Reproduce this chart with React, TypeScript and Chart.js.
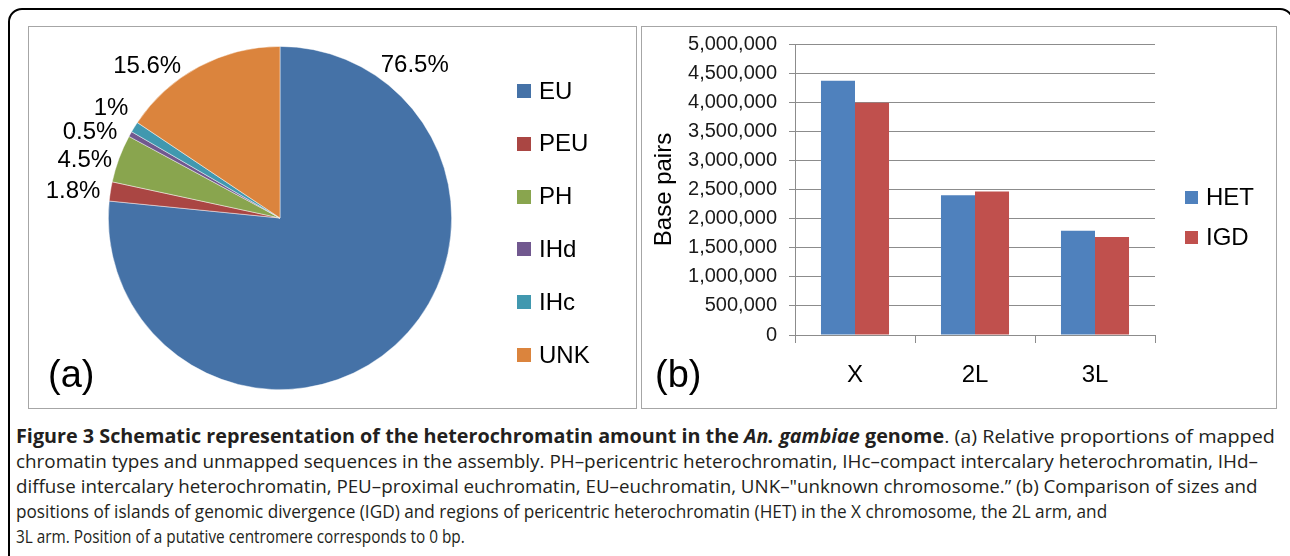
import React, { useEffect, useRef } from 'react';
import { Chart, registerables } from 'chart.js';

Chart.register(...registerables);

const FONT = '"Liberation Sans", Arial, Helvetica, sans-serif';
const CAPTION_FONT = '"Open Sans", "Noto Sans", sans-serif';

// ---- Panel (a) data ----
const pieLabels = ['EU', 'PEU', 'PH', 'IHd', 'IHc', 'UNK'];
const pieValues = [76.5, 1.8, 4.5, 0.5, 1, 15.6];
const pieColors = ['#4572A7', '#AA4643', '#89A54E', '#71588F', '#4198AF', '#DB843D'];
// label placement style (angle nudge in degrees from slice middle, gap beyond the rim)
const pieLabelAngleNudge = [-96.4, -1.7, -3.8, -4.9, 1.1, -13.1];
const pieLabelGap = [32, 37, 32, 37, 30, 30];

// ---- Panel (b) data ----
const barCategories = ['X', '2L', '3L'];
const hetValues = [4370000, 2400000, 1790000];
const igdValues = [3990000, 2465000, 1685000];
const barSeriesNames = ['HET', 'IGD'];
const barColors = ['#4F81BD', '#C0504D'];
const yMax = 5000000;
const yStep = 500000;

// ---- Caption ----
const captionLines = [
  'chromatin types and unmapped sequences in the assembly. PH–pericentric heterochromatin, IHc–compact intercalary heterochromatin, IHd–',
  'diffuse intercalary heterochromatin, PEU–proximal euchromatin, EU–euchromatin, UNK–"unknown chromosome.” (b) Comparison of sizes and',
  'positions of islands of genomic divergence (IGD) and regions of pericentric heterochromatin (HET) in the X chromosome, the 2L arm, and',
  '3L arm. Position of a putative centromere corresponds to 0 bp.',
];
const captionTargets = [1259, 1242, 1242, 1091, 449];

const sideLegend = {
  id: 'sideLegend',
  afterDraw(chart: any, _args: any, opts: any) {
    if (!opts || !opts.enabled) return;
    const { ctx, chartArea } = chart;
    let items: { text: string; color: string }[] = [];
    if (opts.fromLabels) {
      const ds = chart.data.datasets[0];
      items = chart.data.labels.map((l: string, i: number) => ({ text: l, color: ds.backgroundColor[i] }));
    } else {
      items = chart.data.datasets.map((d: any) => ({ text: d.label, color: d.backgroundColor }));
    }
    ctx.save();
    ctx.font = `${opts.fontSize}px ${FONT}`;
    ctx.textBaseline = 'middle';
    ctx.textAlign = 'left';
    items.forEach((it, i) => {
      const y = chartArea.top + opts.top + i * opts.spacing;
      const x = chartArea.right + opts.left;
      ctx.fillStyle = it.color;
      ctx.fillRect(x, Math.round(y - opts.box / 2), opts.box, opts.box);
      ctx.fillStyle = '#000';
      ctx.fillText(it.text, x + opts.box + opts.gap, y + 1);
    });
    ctx.restore();
  },
};

const pieValueLabels = {
  id: 'pieValueLabels',
  afterDatasetsDraw(chart: any, _args: any, opts: any) {
    if (!opts || !opts.enabled) return;
    const meta = chart.getDatasetMeta(0);
    const ds = chart.data.datasets[0];
    const { ctx } = chart;
    ctx.save();
    ctx.font = `${opts.fontSize}px ${FONT}`;
    ctx.fillStyle = '#000';
    ctx.textAlign = 'center';
    ctx.textBaseline = 'middle';
    meta.data.forEach((arc: any, i: number) => {
      const p = arc.getProps(['x', 'y', 'startAngle', 'endAngle', 'outerRadius'], true);
      const a = (p.startAngle + p.endAngle) / 2 + (pieLabelAngleNudge[i] * Math.PI) / 180;
      const d = p.outerRadius + pieLabelGap[i];
      ctx.fillText(String(ds.data[i]) + '%', p.x + d * Math.cos(a), p.y + d * Math.sin(a));
    });
    ctx.restore();
  },
};

function PieChart() {
  const ref = useRef<HTMLCanvasElement>(null);
  useEffect(() => {
    const chart = new Chart(ref.current as HTMLCanvasElement, {
      type: 'pie',
      data: {
        labels: pieLabels,
        datasets: [
          {
            data: pieValues,
            backgroundColor: pieColors,
            borderWidth: 0.75,
            borderColor: 'rgba(255,255,255,0.6)',
          },
        ],
      },
      options: {
        responsive: false,
        animation: false,
        devicePixelRatio: 1,
        layout: { padding: { left: 79, top: 19, right: 184, bottom: 18 } },
        plugins: {
          legend: { display: false },
          tooltip: { enabled: false },
          sideLegend: { enabled: true, fromLabels: true, fontSize: 24, box: 14, gap: 8, left: 65, top: 45, spacing: 52.8 },
          pieValueLabels: { enabled: true, fontSize: 24 },
        } as any,
      },
      plugins: [sideLegend, pieValueLabels],
    });
    return () => chart.destroy();
  }, []);
  return <canvas ref={ref} width={607} height={381} style={{ display: 'block' }} />;
}

function BarChart() {
  const ref = useRef<HTMLCanvasElement>(null);
  useEffect(() => {
    const grid = '#8c8c8c';
    const chart = new Chart(ref.current as HTMLCanvasElement, {
      type: 'bar',
      data: {
        labels: barCategories,
        datasets: [
          { label: barSeriesNames[0], data: hetValues, backgroundColor: barColors[0], borderWidth: 0, categoryPercentage: 0.567, barPercentage: 1 },
          { label: barSeriesNames[1], data: igdValues, backgroundColor: barColors[1], borderWidth: 0, categoryPercentage: 0.567, barPercentage: 1 },
        ],
      },
      options: {
        responsive: false,
        animation: false,
        devicePixelRatio: 1,
        layout: { padding: { left: 0, top: 17, right: 120, bottom: 0 } },
        scales: {
          x: {
            grid: { drawOnChartArea: false, drawTicks: true, tickLength: 8, color: grid, offset: true },
            border: { color: grid },
            ticks: { font: { size: 24, family: FONT }, color: '#000', padding: 18 },
            afterFit: (s: any) => {
              s.height = 73;
              s.paddingLeft = 0;
              s.paddingRight = 0;
            },
          },
          y: {
            min: 0,
            max: yMax,
            ticks: {
              stepSize: yStep,
              autoSkip: false,
              font: { size: 20, family: FONT },
              color: '#1a1a1a',
              padding: 12,
              callback: (v: any) => Number(v).toLocaleString('en-US'),
            },
            grid: { color: grid, tickLength: 6 },
            border: { color: grid },
            title: { display: true, text: 'Base pairs', font: { size: 24, family: FONT }, color: '#000', padding: { top: 8, bottom: 0 } },
            afterFit: (s: any) => {
              s.width = 153;
              s.paddingTop = 0;
              s.paddingBottom = 0;
            },
          },
        },
        plugins: {
          legend: { display: false },
          tooltip: { enabled: false },
          sideLegend: { enabled: true, fromLabels: false, fontSize: 24, box: 13, gap: 8, left: 30, top: 153, spacing: 40 },
        } as any,
      },
      plugins: [sideLegend],
    });
    return () => chart.destroy();
  }, []);
  return <canvas ref={ref} width={633} height={381} style={{ display: 'block' }} />;
}

export default function App() {
  const lineRefs = useRef<(HTMLDivElement | null)[]>([]);
  useEffect(() => {
    const fit = () => {
      lineRefs.current.forEach((el, i) => {
        if (!el) return;
        el.style.transform = 'none';
        const w = el.scrollWidth;
        if (w > 0) el.style.transform = `scaleX(${captionTargets[i] / w})`;
      });
    };
    fit();
    if ((document as any).fonts && (document as any).fonts.ready) (document as any).fonts.ready.then(fit);
  }, []);

  const lineStyle = (i: number): React.CSSProperties => ({
    position: 'absolute',
    left: 16,
    top: 424 + i * 25,
    height: 25,
    lineHeight: '25px',
    whiteSpace: 'nowrap',
    display: 'inline-block',
    transformOrigin: 'left center',
    fontFamily: CAPTION_FONT,
    fontSize: 19,
    color: '#231f20',
  });

  return (
    <div style={{ position: 'fixed', left: 0, top: 0, width: 1290, height: 556, overflow: 'hidden', background: '#fff', fontFamily: FONT }}>
      <div style={{ position: 'absolute', left: 8, top: 8, width: 1286, height: 700, border: '2px solid #000', borderRadius: 14, boxSizing: 'border-box' }} />
      <div style={{ position: 'absolute', left: 28, top: 26, width: 609, height: 383, border: '1px solid #a6a6a6', boxSizing: 'border-box', background: '#fff' }}>
        <PieChart />
        <div style={{ position: 'absolute', left: 19, top: 326, fontSize: 38, lineHeight: '42px', color: '#000', fontFamily: FONT }}>(a)</div>
      </div>
      <div style={{ position: 'absolute', left: 641, top: 26, width: 636, height: 383, border: '1px solid #a6a6a6', boxSizing: 'border-box', background: '#fff' }}>
        <BarChart />
        <div style={{ position: 'absolute', left: 13, top: 326, fontSize: 38, lineHeight: '42px', color: '#000', fontFamily: FONT }}>(b)</div>
      </div>
      <div ref={(el) => { lineRefs.current[0] = el; }} style={lineStyle(0)}>
        <b>
          Figure 3 Schematic representation of the heterochromatin amount in the <i>An. gambiae</i> genome
        </b>
        . (a) Relative proportions of mapped
      </div>
      {captionLines.map((t, i) => (
        <div key={i} ref={(el) => { lineRefs.current[i + 1] = el; }} style={lineStyle(i + 1)}>
          {t}
        </div>
      ))}
    </div>
  );
}
